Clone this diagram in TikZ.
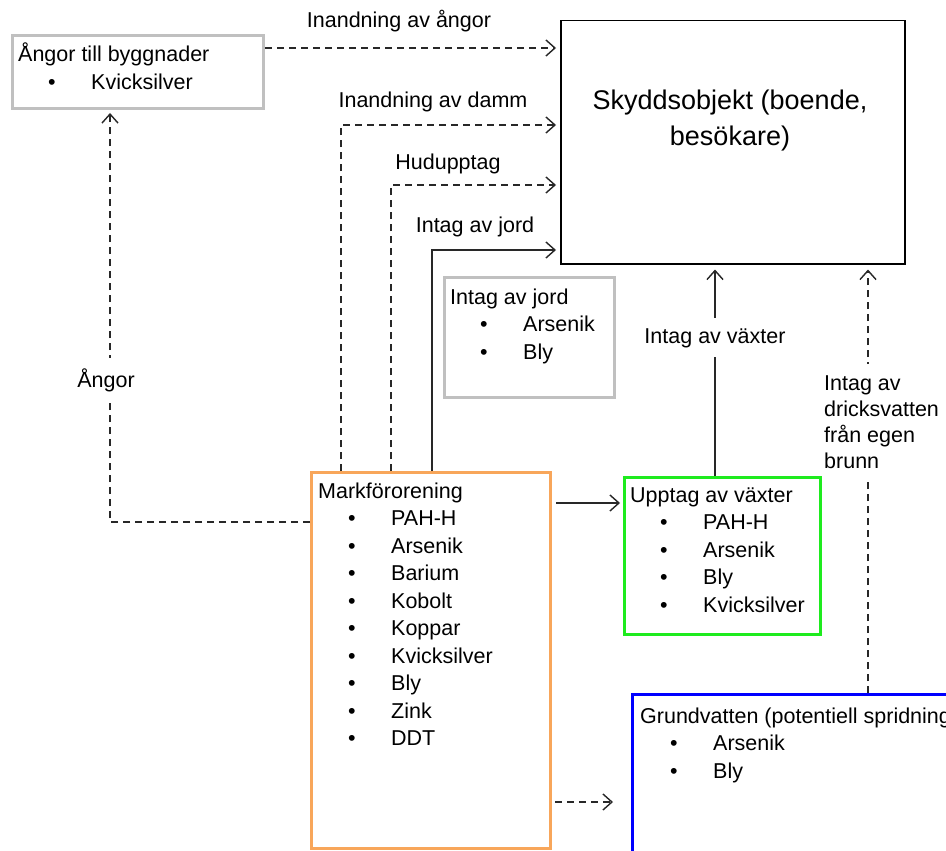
\documentclass[tikz,border=0pt]{standalone}
\usepackage{fontspec}
\setmainfont{Liberation Sans}
\usetikzlibrary{arrows.meta}
\definecolor{boxgray}{RGB}{192,192,192}
\definecolor{orangebox}{RGB}{248,166,90}
\definecolor{greenbox}{RGB}{30,235,30}
\definecolor{bluebox}{RGB}{0,0,255}
\definecolor{linegray}{RGB}{40,40,40}
\newcommand\itm[1]{\hspace*{30pt}\makebox[43pt][l]{\textbullet}#1}
\newcommand\blist[1]{\begin{tabular}[t]{@{}l@{}}#1\end{tabular}}
\begin{document}
\begin{tikzpicture}[x=1pt,y=-1pt,
  box/.style={draw, line width=3pt, inner sep=0pt, anchor=north west},
  body/.style={font=\fontsize{21.5}{27.5}\selectfont, inner sep=0pt, anchor=base west},
  lbl/.style={font=\fontsize{21.5}{26}\selectfont, inner sep=0pt, anchor=base},
  conn/.style={line width=1.4pt, draw=linegray, -{Straight Barb[length=9pt,width=16pt,line width=1.4pt]}},
  dconn/.style={conn, dash pattern=on 7pt off 5pt},
]
\useasboundingbox (0,0) rectangle (946,851);
\clip (0,0) rectangle (946,851);
\fill[white] (0,0) rectangle (946,851);

% boxes
\node[box, draw=boxgray, minimum width=251pt, minimum height=73pt] (angbox) at (11,34) {};
\node[box, draw=black, line width=1.5pt, minimum width=344pt, minimum height=243pt] (skydd) at (560,20) {};
\node[box, draw=boxgray, minimum width=170pt, minimum height=120pt] (jordbox) at (443,276) {};
\node[box, draw=orangebox, minimum width=239pt, minimum height=376pt] (mark) at (310,471) {};
\node[box, draw=greenbox, minimum width=196pt, minimum height=157pt] (upp) at (623,476) {};
\node[box, draw=bluebox, minimum width=370pt, minimum height=220pt] (grund) at (631,693) {};

% box texts
\node[body] (angtxt) at (18,62) {\blist{Ångor till byggnader\\\itm{Kvicksilver}}};
\node[font=\fontsize{27}{36}\selectfont, align=center, inner sep=0pt] (skyddtxt) at (730,121) {Skyddsobjekt (boende,\\besökare)};
\node[body] (jordtxt) at (450,304) {\blist{Intag av jord\\\itm{Arsenik}\\\itm{Bly}}};
\node[body] (marktxt) at (318,498) {\blist{Markförorening\\\itm{PAH-H}\\\itm{Arsenik}\\\itm{Barium}\\\itm{Kobolt}\\\itm{Koppar}\\\itm{Kvicksilver}\\\itm{Bly}\\\itm{Zink}\\\itm{DDT}}};
\node[body] (upptxt) at (630,502) {\blist{Upptag av växter\\\itm{PAH-H}\\\itm{Arsenik}\\\itm{Bly}\\\itm{Kvicksilver}}};
\node[body] (grundtxt) at (640,723) {\blist{Grundvatten (potentiell spridning)\\\itm{Arsenik}\\\itm{Bly}}};

% connectors
\draw[dconn, shorten >=4pt] (angbox.east |- 0,48) -- (skydd.west |- 0,48);
\draw[dconn, shorten >=4pt] (341,0 |- mark.north) |- (skydd.west |- 0,125);
\draw[dconn, shorten >=4pt] (391,0 |- mark.north) |- (skydd.west |- 0,185);
\draw[conn, shorten >=4pt] (432,0 |- mark.north) |- (skydd.west |- 0,250);
\draw[dconn, shorten >=3pt] (mark.west |- 0,522) -| (110,0 |- angbox.south);
\draw[conn, shorten <=4pt, shorten >=3pt] (mark.east |- 0,503) -- (upp.west |- 0,503);
\draw[conn, shorten >=5pt] (715,0 |- upp.north) -- (715,0 |- skydd.south);
\draw[dconn, shorten >=5pt] (868,0 |- grund.north) -- (868,0 |- skydd.south);
\draw[dconn, shorten <=3pt, shorten >=18pt] (mark.east |- 0,802) -- (grund.west |- 0,802);

% connector labels
\node[lbl] (l1) at (399,28) {Inandning av ångor};
\node[lbl] (l2) at (433,107) {Inandning av damm};
\node[lbl] (l3) at (448,169) {Hudupptag};
\node[lbl] (l4) at (475,232) {Intag av jord};
\node[lbl, fill=white, inner ysep=10pt, inner xsep=2pt] (l5) at (715,343) {Intag av växter};
\node[lbl, fill=white, inner ysep=10pt, inner xsep=2pt] (l6) at (106,387) {Ångor};
\node[font=\fontsize{21.5}{26}\selectfont, align=left, fill=white, inner ysep=12pt, inner xsep=0pt, anchor=north west] (l7) at (824,364) {Intag av\\dricksvatten\\från egen\\brunn};
\end{tikzpicture}
\end{document}
